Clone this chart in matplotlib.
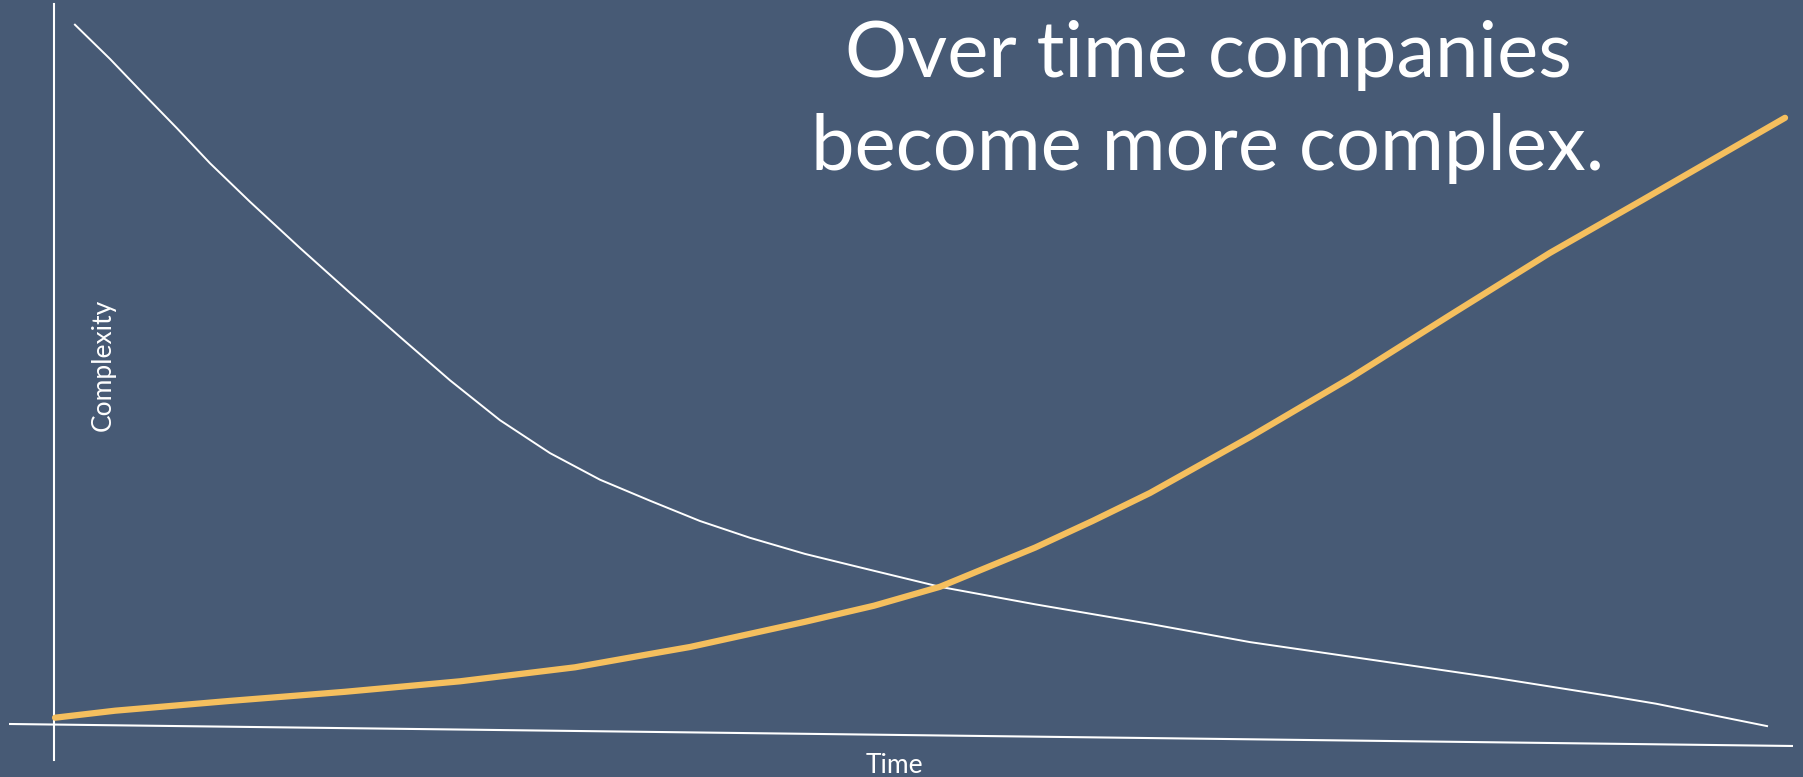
import matplotlib.pyplot as plt

# "simplicity" curve (white) - falls off over time
white_t = [1.21, 3.24, 5.14, 7.11, 9.02, 11.33, 14.22, 17.11, 20.0, 22.89, 25.78, 28.67,
           31.56, 34.45, 37.34, 40.23, 43.41, 46.71, 51.21, 56.71, 63.35, 69.13,
           76.65, 83.29, 89.94, 92.6, 99.02]
white_c = [99.9, 95.0, 90.1, 85.1, 80.1, 74.6, 68.0, 61.6, 55.3, 49.1, 43.4, 38.7,
           34.9, 31.9, 29.0, 26.6, 24.3, 22.3, 19.6, 17.1, 14.3, 11.7,
           9.0, 6.6, 4.0, 2.9, -0.3]

# complexity curve (orange) - grows over time
orange_t = [0.06, 3.53, 10.17, 16.82, 23.47, 30.12, 34.45, 36.76, 43.41, 47.4,
            51.21, 56.71, 60.03, 63.35, 69.13, 74.91, 80.69, 86.47, 91.85, 96.76, 100.06]
orange_c = [0.9, 1.9, 3.3, 4.6, 6.1, 8.1, 10.0, 11.0, 14.6, 16.9,
            19.6, 25.2, 29.0, 33.0, 41.0, 49.4, 58.4, 67.3, 74.9, 81.9, 86.6]

# hand drawn axis strokes
yaxis_t = [0, 0]
yaxis_c = [102.9, -5.1]
xaxis_t = [-2.54, 100.46]
xaxis_c = [0, -3.14]

bg = '#475a75'
orange = '#f5bf5e'

plt.rcParams['font.family'] = ['Lato', 'DejaVu Sans']

fig = plt.figure(figsize=(18.03, 7.77), dpi=100, facecolor=bg)
ax = fig.add_axes([54/1803, 53/777, 1730/1803, 700/777])
ax.set_facecolor(bg)
ax.set_xlim(0, 100)
ax.set_ylim(0, 100)
ax.axis('off')

ax.plot(yaxis_t, yaxis_c, color='white', lw=1.5, clip_on=False)
ax.plot(xaxis_t, xaxis_c, color='white', lw=1.5, clip_on=False)
ax.plot(white_t, white_c, color='white', lw=1.4, clip_on=False)
ax.plot(orange_t, orange_c, color=orange, lw=4.5, solid_capstyle='round', clip_on=False)

fig.text(0.0571, 0.530, 'Complexity', color='white', fontsize=19, rotation=90,
         ha='center', va='center')
fig.text(0.496, 0.005, 'Time', color='white', fontsize=19, ha='center', va='baseline')

fig.text(0.670, 0.901, 'Over time companies', color='white', fontsize=56,
         ha='center', va='baseline')
fig.text(0.670, 0.781, 'become more complex.', color='white', fontsize=56,
         ha='center', va='baseline')

fig.savefig('out.png', dpi=100, facecolor=bg)
